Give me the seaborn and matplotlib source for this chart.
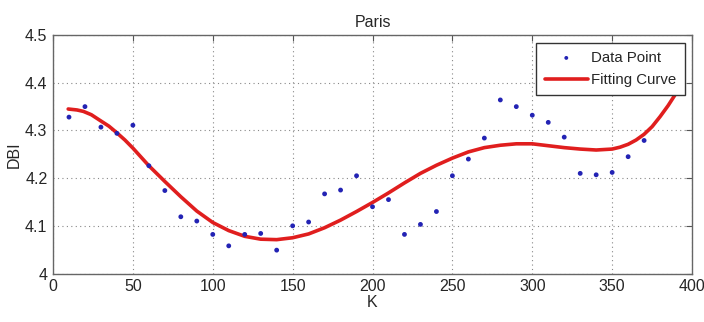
import matplotlib.pyplot as plt
import seaborn as sns
import pandas as pd

# Measured points (K = 10 ... 370)
k_points = [10, 20, 30, 40, 50, 60, 70, 80, 90, 100, 110, 120, 130, 140, 150, 160,
            170, 180, 190, 200, 210, 220, 230, 240, 250, 260, 270, 280, 290, 300,
            310, 320, 330, 340, 350, 360, 370]
dbi_points = [4.328, 4.350, 4.307, 4.294, 4.311, 4.226, 4.174, 4.119, 4.110, 4.082,
              4.058, 4.082, 4.084, 4.049, 4.100, 4.108, 4.167, 4.175, 4.205, 4.140,
              4.155, 4.082, 4.103, 4.130, 4.205, 4.240, 4.284, 4.364, 4.350, 4.332,
              4.317, 4.286, 4.210, 4.207, 4.212, 4.245, 4.279]

# Fitting curve
k_curve = [9.5, 15, 19, 24, 29, 35, 40, 45, 50, 60, 70, 80, 90, 100, 110, 120, 130,
           140, 150, 160, 170, 180, 190, 200, 210, 220, 230, 240, 250, 260, 270, 280,
           290, 300, 310, 320, 330, 340, 350, 355, 360, 365, 370, 375, 380, 385, 390,
           393]
dbi_curve = [4.345, 4.343, 4.340, 4.333, 4.322, 4.309, 4.295, 4.280, 4.263, 4.226,
             4.193, 4.161, 4.131, 4.107, 4.090, 4.078, 4.072, 4.071, 4.075, 4.083,
             4.096, 4.112, 4.130, 4.149, 4.169, 4.190, 4.210, 4.227, 4.242, 4.255,
             4.264, 4.269, 4.272, 4.272, 4.268, 4.264, 4.261, 4.259, 4.261, 4.265,
             4.271, 4.280, 4.292, 4.308, 4.329, 4.352, 4.378, 4.395]

pts = pd.DataFrame({'K': k_points, 'DBI': dbi_points})
fit = pd.DataFrame({'K': k_curve, 'DBI': dbi_curve})

sns.set_style('white')
plt.rcParams['font.family'] = ['Liberation Sans', 'DejaVu Sans']
plt.rcParams['font.size'] = 11

fig = plt.figure(figsize=(7.04, 3.22), dpi=100)
ax = fig.add_axes([0.0753, 0.1506, 0.9077, 0.7404])

sns.scatterplot(data=pts, x='K', y='DBI', ax=ax, color='#2323b4', s=12,
                edgecolor='none', label='Data Point', zorder=3)
sns.lineplot(data=fit, x='K', y='DBI', ax=ax, color='#e01e1e', linewidth=2.6,
             label='Fitting Curve', zorder=2)

ax.set_xlim(0, 400)
ax.set_ylim(4.0, 4.5)
ax.set_xticks(range(0, 401, 50))
ax.set_yticks([4.0, 4.1, 4.2, 4.3, 4.4, 4.5])
ax.set_yticklabels(['4', '4.1', '4.2', '4.3', '4.4', '4.5'])
ax.grid(True, linestyle=(0, (1, 3)), color='#888888', linewidth=0.8)
ax.tick_params(direction='in', length=4, top=True, right=True, labelsize=11.5,
               color='#555555', pad=4)
for s in ax.spines.values():
    s.set_color('#666666')
    s.set_linewidth(1.0)

ax.set_title('Paris', fontsize=11.5, pad=6)
ax.set_xlabel('K', fontsize=11.5, labelpad=1)
ax.set_ylabel('DBI', fontsize=11.5, labelpad=2)

leg = ax.legend(loc='upper right', fontsize=10.8, frameon=True, fancybox=False,
                handlelength=2.9, borderaxespad=0.5, borderpad=0.55,
                labelspacing=0.55, handletextpad=0.2, markerscale=0.8)
leg.get_frame().set_edgecolor('#333333')
leg.get_frame().set_linewidth(1.0)
leg.get_frame().set_alpha(1.0)
leg.set_zorder(5)

plt.savefig('out.png', dpi=100)
